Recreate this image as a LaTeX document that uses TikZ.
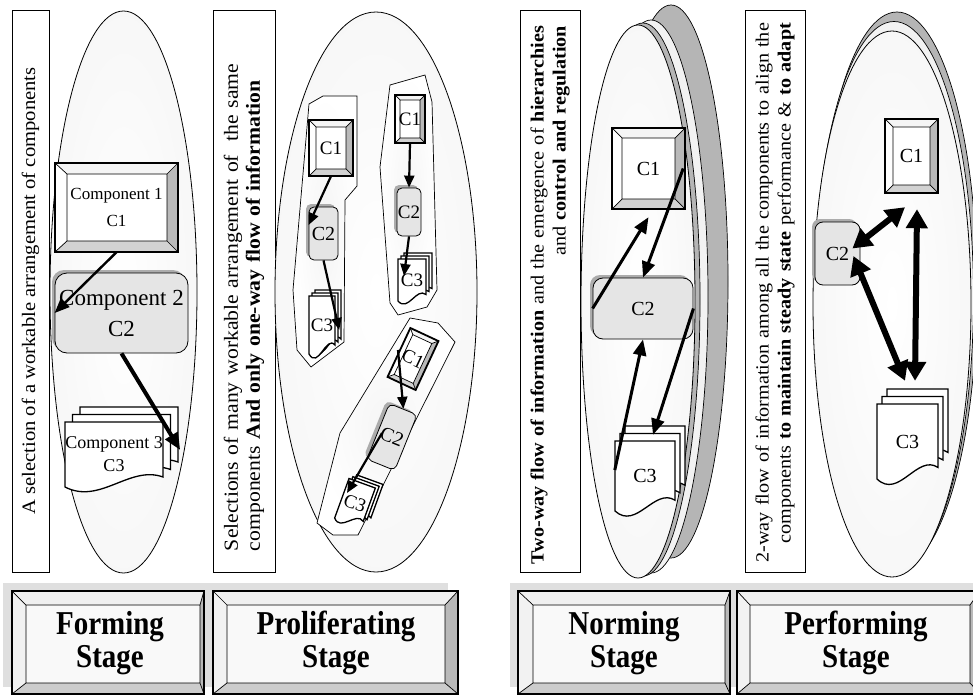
\documentclass[tikz,border=0pt]{standalone}
\usepackage{fontspec}
\setmainfont{Liberation Serif}
\newfontfamily\vtextfont{Liberation Serif}[FakeStretch=1.085]
\usetikzlibrary{arrows.meta,shadows,calc}

\newcommand\bevelrect[8]{%
  \fill[bevinner] (#5,#6) rectangle (#7,#8);
  \fill[bevtop] (#1,#2) -- (#3,#2) -- (#7,#6) -- (#5,#6) -- cycle;
  \fill[bevleft] (#1,#2) -- (#1,#4) -- (#5,#8) -- (#5,#6) -- cycle;
  \fill[bevright] (#3,#2) -- (#3,#4) -- (#7,#8) -- (#7,#6) -- cycle;
  \fill[bevbot] (#1,#4) -- (#3,#4) -- (#7,#8) -- (#5,#8) -- cycle;
  \draw[line width=0.7pt] (#1,#2) -- (#5,#6) (#3,#2) -- (#7,#6) (#3,#4) -- (#7,#8) (#1,#4) -- (#5,#8) (#5,#6) rectangle (#7,#8);
  \draw[line width=1.8pt] (#1,#2) rectangle (#3,#4);
}
\newcommand\docpage[4]{%
  \path[docpage] ({#1},{#2}) -- ({#1+#3},{#2}) -- ({#1+#3},{#2+0.846*#4})
    .. controls ({#1+0.66*#3},{#2+0.66*#4}) and ({#1+0.357*#3},{#2+1.277*#4}) .. ({#1},{#2+#4}) -- cycle;
}
\newcommand\docstack[6]{%
  \docpage{#1+2*#5}{#2-2*#6}{#3}{#4}
  \docpage{#1+#5}{#2-#6}{#3}{#4}
  \docpage{#1}{#2}{#3}{#4}
}

\begin{document}
\begin{tikzpicture}[x=1pt,y=-1pt,
  tbox/.style={draw, fill=white, line width=0.8pt},
  vtext/.style={rotate=90, inner sep=0pt, font=\vtextfont\fontsize{19}{22}\selectfont},
  ellshade/.style={draw, line width=0.8pt, inner color=white, outer color=gray!6},
  grp/.style={draw, line width=0.7pt, inner color=gray!8, outer color=white},
  comp2/.style={draw, line width=0.8pt, fill=gray!20, rounded corners=#1, inner sep=0pt, align=center,
     drop shadow={shadow xshift=-3pt, shadow yshift=3pt, fill=gray!65, opacity=1}},
  comp2/.default=8pt,
  lab/.style={inner sep=0pt, align=center},
  docpage/.style={draw, fill=white, line width=1.3pt},
  bevinner/.style={fill=white},
  bevtop/.style={fill=gray!8},
  bevleft/.style={fill=white},
  bevright/.style={fill=gray!55},
  bevbot/.style={fill=gray!35},
  backdark/.style={draw, line width=0.7pt, fill=gray!58},
  backlight/.style={draw, line width=0.7pt, fill=gray!10},
  arrS/.style={line width=2.2pt, -{Triangle[length=12pt,width=10pt]}},
  arrA/.style={line width=2.4pt, -{Triangle[length=15pt,width=12pt]}},
  arrB/.style={line width=4pt, -{Triangle[length=17pt,width=14pt]}},
  arrN/.style={line width=3pt, -{Triangle[length=16pt,width=13pt]}},
  arrP/.style={line width=6pt, {Triangle[length=19pt,width=21pt]}-{Triangle[length=19pt,width=21pt]}},
  stagelab/.style={inner sep=0pt, font=\bfseries\fontsize{29}{28.5}\selectfont},
  c19/.style={font=\fontsize{19}{22}\selectfont},
  c20/.style={font=\fontsize{20}{22}\selectfont}
]
\useasboundingbox (0,0) rectangle (973,695);
\fill[white] (0,0) rectangle (973,695);

% ---------------- Panel 1: Forming ----------------
\draw[tbox] (12,10) rectangle (49,572);
\node[vtext] (t1) at (30.5,291) {A selection of a workable arrangement of components};
\path[ellshade] (123.5,292) ellipse [x radius=73.5, y radius=281];
\bevelrect{55}{163}{178}{252}{67}{174}{167}{241}
\node[lab, minimum width=123pt, minimum height=89pt, font=\fontsize{17}{27}\selectfont] (p1c1) at (116.5,207.5) {Component 1\\C1};
\node[comp2=12pt, minimum width=133pt, minimum height=80pt, font=\fontsize{23}{31}\selectfont] (p1c2) at (121.5,313) {Component 2\\C2};
\docstack{65}{422}{98}{65}{7.5}{7.5}
\node[lab, minimum width=98pt, minimum height=65pt, font=\fontsize{18}{23}\selectfont] (p1c3) at (114,454) {Component 3\\C3};
\draw[arrA] (p1c1.south) -- (p1c2.west);
\draw[arrB] (p1c2.south) -- ([xshift=17pt,yshift=4pt]p1c3.east);

% ---------------- Panel 2: Proliferating ----------------
\draw[tbox] (213,10) rectangle (275,572);
\node[vtext, font=\vtextfont\fontsize{20}{22}\selectfont, text width=490pt, align=left] (t2) at (244,306)
  {Selections of many workable arrangement of\ \ the same\\components \textbf{And only one-way flow of information}};
\path[ellshade] (376,292) ellipse [x radius=101, y radius=280];
\path[grp] (309,104) -- (323,96) -- (357,96) -- (357,186) -- (345,200) -- (344,342) -- (311,367) -- (297,350) -- (293,290) -- cycle;
\path[grp] (390,85) -- (425,75) -- (432,102) -- (437,290) -- (427,307) -- (398,315) -- (390,303) -- (380,167) -- cycle;
\path[grp] (410,318) -- (438,323) -- (455,342) -- (358,535) -- (333,535) -- (317,523) -- (340,433) -- cycle;
% group A
\bevelrect{309}{120}{353}{176}{316}{127}{346}{169}
\node[lab, c19, minimum width=44pt, minimum height=56pt] (p2ac1) at (331,148) {C1};
\node[comp2=5pt, c20, minimum width=29pt, minimum height=53pt] (p2ac2) at (323.5,233.5) {C2};
\docstack{309}{296}{26}{58}{3}{3}
\node[lab, c19, minimum width=26pt, minimum height=58pt] (p2ac3) at (322,325) {C3};
\draw[arrS] (p2ac1.south) -- ([yshift=8.5pt]p2ac2.west);
\draw[arrS] (p2ac2.south) -- ([xshift=4pt,yshift=-5pt]p2ac3.east);
% group B
\bevelrect{395}{95}{425}{143}{400}{100}{420}{138}
\node[lab, c19, minimum width=30pt, minimum height=48pt] (p2bc1) at (410,119) {C1};
\node[comp2=5pt, c19, minimum width=24pt, minimum height=48pt] (p2bc2) at (409,212) {C2};
\docstack{398}{259}{28}{42}{3}{3}
\node[lab, c19, minimum width=28pt, minimum height=42pt] (p2bc3) at (412,280) {C3};
\draw[arrS] (p2bc1.south) -- (p2bc2.north);
\draw[arrS] (p2bc2.south) -- ([xshift=-8pt,yshift=4pt]p2bc3.center);
% group C (tilted)
\begin{scope}[shift={(413,359)},rotate=-25]
  \bevelrect{-15.5}{-27}{15.5}{27}{-10.5}{-22}{10.5}{22}
\end{scope}
\node[lab, c19, rotate=-25] (p2cc1) at (413,359) {C1};
\node[comp2=5pt, c20, rotate=-22, minimum width=30pt, minimum height=60pt] (p2cc2) at (392,437) {C2};
\begin{scope}[shift={(355,503)},rotate=-20]
  \docstack{-14}{-21}{28}{42}{3}{3}
\end{scope}
\node[lab, c19, rotate=-20] (p2cc3) at (355,503) {C3};
\draw[arrS] ($(p2cc1.center)+(-15,-9)$) -- (p2cc2.north);
\draw[arrS] ($(p2cc2.center)+(-10,-4)$) -- ($(p2cc3.center)+(-8,-10)$);

% ---------------- Panel 3: Norming ----------------
\draw[tbox] (520,10) rectangle (580,572);
\node[vtext, font=\vtextfont\fontsize{18.6}{22}\selectfont, text width=570pt, align=right] (t3) at (550,311)
  {\textbf{Two-way flow of information} and the emergence of \textbf{hierarchies}\\and \textbf{control and regulation}};
\path[backdark] (671,281.5) ellipse [x radius=57, y radius=276.5];
\path[backlight] (651,296.5) ellipse [x radius=57, y radius=276.5];
\path[backdark] (643,299.5) ellipse [x radius=57, y radius=276.5];
\path[ellshade] (638,301.5) ellipse [x radius=57, y radius=276.5];
\bevelrect{612}{128}{685}{209}{622}{138}{675}{199}
\node[lab, c20, minimum width=73pt, minimum height=81pt] (p3c1) at (648.5,168.5) {C1};
\node[comp2=10pt, c20, minimum width=100pt, minimum height=61pt] (p3c2) at (643,308.5) {C2};
\docstack{615}{441}{60}{70}{5}{7.5}
\node[lab, c20, minimum width=60pt, minimum height=70pt] (p3c3) at (645,476) {C3};
\draw[arrN] (p3c2.west) -- ([yshift=-8pt]p3c1.south);
\draw[arrN] ([xshift=-2pt]p3c1.east) -- (p3c2.north);
\draw[arrN] ([yshift=6pt]p3c3.west) -- (p3c2.south);
\draw[arrN] (p3c2.east) -- ([xshift=8pt,yshift=6pt]p3c3.north);

% ---------------- Panel 4: Performing ----------------
\draw[tbox] (745,10) rectangle (805,572);
\node[vtext, font=\vtextfont\fontsize{18.6}{22}\selectfont, text width=570pt, align=right] (t4) at (775,308)
  {2-way flow of information among all the components to align the\\components \textbf{to maintain steady state} performance \& \textbf{to adapt}};
\path[backdark] (897,290) ellipse [x radius=80, y radius=278];
\path[backlight] (894,297) ellipse [x radius=79.5, y radius=275.5];
\path[ellshade] (892,304) ellipse [x radius=79, y radius=273];
\bevelrect{885}{119}{938}{193}{893}{127}{930}{185}
\node[lab, c20, minimum width=53pt, minimum height=74pt] (p4c1) at (911.5,156) {C1};
\node[comp2=8pt, c20, minimum width=45pt, minimum height=63pt] (p4c2) at (837.5,253.5) {C2};
\docstack{877}{404}{61}{75}{5}{7.5}
\node[lab, c20, minimum width=61pt, minimum height=75pt] (p4c3) at (907.5,441.5) {C3};
\draw[arrP] ([xshift=-8pt,yshift=5pt]p4c2.east) -- ([xshift=-6.5pt,yshift=-14pt]p4c1.south);
\draw[arrP] ([xshift=5.5pt,yshift=-16pt]p4c1.south) -- ([xshift=7.5pt,yshift=23pt]p4c3.north);
\draw[arrP] ([xshift=-7pt,yshift=-2.5pt]p4c2.east) -- ([xshift=-2.5pt,yshift=23pt]p4c3.north);

% ---------------- Stage boxes ----------------
\fill[gray!25] (3,583) rectangle (448,687);
\fill[gray!25] (510,583) rectangle (973,687);
\begin{scope}[bevinner/.style={fill=gray!5}, bevtop/.style={fill=gray!12}, bevleft/.style={fill=gray!10},
              bevright/.style={fill=gray!55}, bevbot/.style={fill=gray!40}]
  \bevelrect{12}{591}{204}{694}{26}{605}{200}{683}
  \bevelrect{213}{591}{458}{694}{227}{605}{445}{683}
  \bevelrect{518}{591}{730}{694}{533}{605}{725}{683}
  \bevelrect{737}{591}{980}{694}{750}{605}{970}{683}
\end{scope}
\node[stagelab] (s1) at (110,644) {\scalebox{1}[1.15]{\begin{tabular}{@{}c@{}}Forming\\Stage\end{tabular}}};
\node[stagelab] (s2) at (336,644) {\scalebox{1}[1.15]{\begin{tabular}{@{}c@{}}Proliferating\\Stage\end{tabular}}};
\node[stagelab] (s3) at (624,644) {\scalebox{1}[1.15]{\begin{tabular}{@{}c@{}}Norming\\Stage\end{tabular}}};
\node[stagelab] (s4) at (856,644) {\scalebox{1}[1.15]{\begin{tabular}{@{}c@{}}Performing\\Stage\end{tabular}}};
\end{tikzpicture}
\end{document}
